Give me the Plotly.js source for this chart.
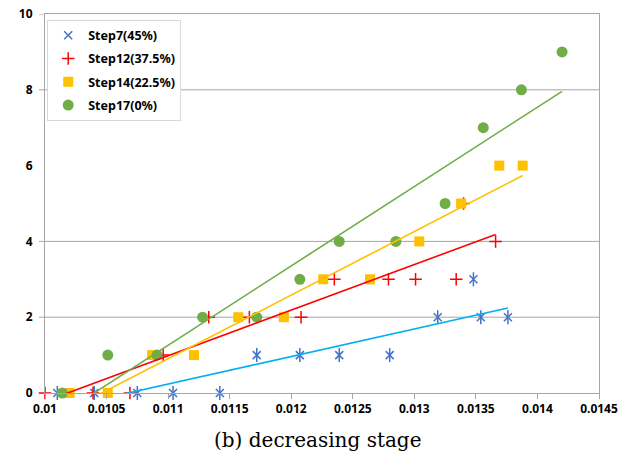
<!DOCTYPE html>
<html>
<head>
<meta charset="utf-8">
<script src="https://cdn.plot.ly/plotly-3.0.1.min.js"></script>
<style>html,body{margin:0;padding:0;background:#fff;}#chart{width:635px;height:462px;}</style>
</head>
<body>
<div id="chart"></div>
<script>
// Step7 (45%)
const step7X = [0.0101, 0.0104, 0.01075, 0.01104, 0.01142, 0.01172, 0.01207, 0.01239, 0.0128, 0.01319, 0.01348, 0.01354, 0.01376];
const step7Y = [0, 0, 0, 0, 0, 1, 1, 1, 1, 2, 3, 2, 2];
// Step12 (37.5%)
const step12X = [0.0100, 0.01039, 0.01069, 0.01096, 0.01133, 0.01166, 0.01208, 0.01235, 0.01279, 0.01301, 0.01334, 0.01340, 0.01366];
const step12Y = [0, 0, 0, 1, 2, 2, 2, 3, 3, 3, 3, 5, 4];
// Step14 (22.5%)
const step14X = [0.0102, 0.01051, 0.01087, 0.01121, 0.01157, 0.01194, 0.01226, 0.01264, 0.01304, 0.01338, 0.01369, 0.01388];
const step14Y = [0, 0, 1, 1, 2, 2, 3, 3, 4, 5, 6, 6];
// Step17 (0%)
const step17X = [0.01014, 0.01051, 0.01091, 0.01128, 0.01172, 0.01207, 0.01239, 0.01285, 0.01325, 0.01356, 0.01387, 0.0142];
const step17Y = [0, 1, 1, 2, 2, 3, 4, 4, 5, 7, 8, 9];

const seriesNames = ['Step7(45%)', 'Step12(37.5%)', 'Step14(22.5%)', 'Step17(0%)'];
const xTickVals = [0.01, 0.0105, 0.011, 0.0115, 0.012, 0.0125, 0.013, 0.0135, 0.014, 0.0145];
const xTickText = ['0.01', '0.0105', '0.011', '0.0115', '0.012', '0.0125', '0.013', '0.0135', '0.014', '0.0145'];
const yTickVals = [0, 2, 4, 6, 8, 10];
const yTickText = ['0', '2', '4', '6', '8', '10'];
const yGridVals = [2, 4, 8];
const yTickMarkVals = [2, 4, 8, 10];
const chartTitle = '(b) decreasing stage';

function fit(xs, ys) {
  const n = xs.length;
  const mx = xs.reduce((a, b) => a + b, 0) / n;
  const my = ys.reduce((a, b) => a + b, 0) / n;
  let sxy = 0, sxx = 0;
  for (let i = 0; i < n; i++) { sxy += (xs[i] - mx) * (ys[i] - my); sxx += (xs[i] - mx) * (xs[i] - mx); }
  const m = sxy / sxx, b = my - m * mx;
  const x0 = Math.min(...xs), x1 = Math.max(...xs);
  return { x: [x0, x1], y: [m * x0 + b, m * x1 + b] };
}

const gridColor = '#A6A6A6';
const boldFamily = '"Noto Sans", "Noto Sans CJK KR", sans-serif';
const tickFont = { family: boldFamily, size: 12, color: '#000', weight: 'bold' };

const traces = [];
// markers
traces.push({ x: step7X, y: step7Y, type: 'scatter', mode: 'markers', name: seriesNames[0], legendgroup: 'g1', cliponaxis: false,
  marker: { symbol: 'x-thin-open', size: 8, color: '#4472C4', line: { color: '#4472C4', width: 1.5 } } });
traces.push({ x: step7X, y: step7Y, type: 'scatter', mode: 'markers', showlegend: false, legendgroup: 'g1', cliponaxis: false, hoverinfo: 'skip',
  marker: { symbol: 'line-ns-open', size: 10, color: '#4472C4', line: { color: '#4472C4', width: 1.5 } } });
traces.push({ x: step12X, y: step12Y, type: 'scatter', mode: 'markers', name: seriesNames[1], legendgroup: 'g2', cliponaxis: false,
  marker: { symbol: 'cross-thin-open', size: 9, color: '#FF0000', line: { color: '#FF0000', width: 1.5 } } });
traces.push({ x: step14X, y: step14Y, type: 'scatter', mode: 'markers', name: seriesNames[2], legendgroup: 'g3', cliponaxis: false,
  marker: { symbol: 'square', size: 10, color: '#FFC000' } });
traces.push({ x: step17X, y: step17Y, type: 'scatter', mode: 'markers', name: seriesNames[3], legendgroup: 'g4', cliponaxis: false,
  marker: { symbol: 'circle', size: 11, color: '#70AD47' } });
// trend lines
const fits = [[step7X, step7Y, '#00B0F0'], [step12X, step12Y, '#FF0000'], [step14X, step14Y, '#FFC000'], [step17X, step17Y, '#70AD47']];
fits.forEach(([xs, ys, c]) => {
  const f = fit(xs, ys);
  traces.push({ x: f.x, y: f.y, type: 'scatter', mode: 'lines', showlegend: false, hoverinfo: 'skip', line: { color: c, width: 1.6 } });
});

const shapes = [];
yGridVals.forEach(v => shapes.push({ type: 'line', xref: 'paper', yref: 'y', x0: 0, x1: 1, y0: v, y1: v, layer: 'below', line: { color: gridColor, width: 1 } }));
yTickMarkVals.forEach(v => shapes.push({ type: 'line', xref: 'paper', yref: 'y', x0: -0.011, x1: 0, y0: v, y1: v, layer: 'below', line: { color: gridColor, width: 1 } }));

const layout = {
  width: 635, height: 462,
  margin: { l: 45, r: 36, t: 14, b: 69 },
  paper_bgcolor: '#fff', plot_bgcolor: '#fff',
  showlegend: true,
  xaxis: {
    range: [0.01, 0.0145], tickmode: 'array', tickvals: xTickVals, ticktext: xTickText,
    showgrid: false, zeroline: false, showline: true, linecolor: gridColor, linewidth: 1, mirror: true,
    ticks: 'outside', ticklen: 5, tickcolor: gridColor, tickfont: tickFont
  },
  yaxis: {
    range: [0, 10], tickmode: 'array', tickvals: yTickVals, ticktext: yTickText,
    showgrid: false, zeroline: false, showline: true, linecolor: gridColor, linewidth: 1, mirror: true,
    ticks: 'outside', ticklen: 9, tickcolor: 'rgba(0,0,0,0)', tickfont: tickFont
  },
  legend: {
    x: 0.004, y: 0.985, xanchor: 'left', yanchor: 'top',
    bgcolor: '#fff', bordercolor: '#D9D9D9', borderwidth: 1,
    traceorder: 'grouped', tracegroupgap: 4,
    font: { family: boldFamily, size: 12.5, color: '#000', weight: 'bold' }
  },
  shapes: shapes,
  annotations: [{
    text: chartTitle, xref: 'paper', yref: 'paper', x: 0.493, y: -0.124, xanchor: 'center', yanchor: 'middle',
    showarrow: false, font: { family: '"DejaVu Serif", serif', size: 20, color: '#000' }
  }]
};

Plotly.newPlot('chart', traces, layout, { displayModeBar: false, staticPlot: true });
</script>
</body>
</html>
